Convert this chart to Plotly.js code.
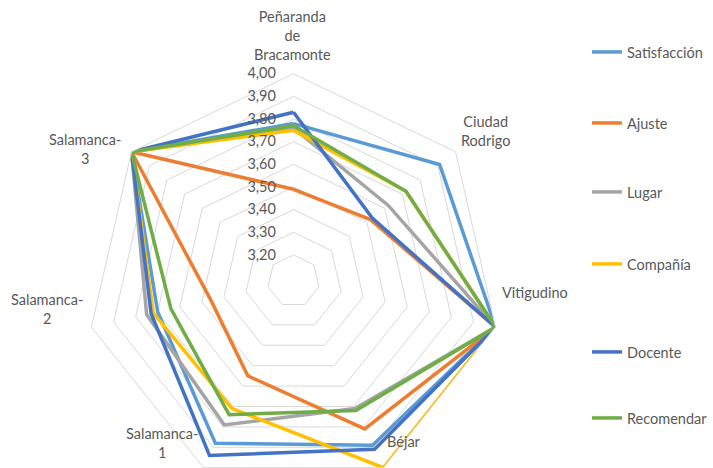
<!DOCTYPE html>
<html><head><meta charset="utf-8">
<script src="https://cdn.plot.ly/plotly-3.0.1.min.js"></script>
<style>
html,body{margin:0;padding:0;background:#fff;overflow:hidden}
#wrap{width:713px;height:468px;overflow:hidden;position:relative}
#chart{width:713px;height:560px}
</style></head><body>
<div id="wrap"><div id="chart"></div></div>
<script>
// ---- data ----
const categories = ['Peñaranda de Bracamonte','Ciudad Rodrigo','Vitigudino','Béjar','Salamanca-1','Salamanca-2','Salamanca-3'];
const categoryLabels = ['Peñaranda<br>de<br>Bracamonte','Ciudad<br>Rodrigo','Vitigudino','Béjar','Salamanca-<br>1','Salamanca-<br>2','Salamanca-<br>3'];
const seriesNames = ['Satisfacción','Ajuste','Lugar','Compañía','Docente','Recomendar'];
const satisfaccion = [3.78, 3.91, 4.00, 3.89, 3.88, 3.70, 4.00];
const ajuste       = [3.49, 3.52, 4.00, 3.81, 3.55, 3.46, 4.00];
const lugar        = [3.76, 3.62, 4.00, 3.71, 3.79, 3.75, 4.00];
const compania     = [3.75, 3.72, 4.00, 4.00, 3.71, 3.72, 4.00];
const docente      = [3.83, 3.53, 4.00, 3.91, 3.94, 3.73, 4.00];
const recomendar   = [3.77, 3.72, 4.00, 3.72, 3.74, 3.64, 4.00];
const radialTicks  = [3.20, 3.30, 3.40, 3.50, 3.60, 3.70, 3.80, 3.90, 4.00];

// ---- styling / layout ----
const seriesValues = [satisfaccion, ajuste, lugar, compania, docente, recomendar];
const colors = ['#5B9BD5','#ED7D31','#A5A5A5','#FFC000','#4472C4','#70AD47'];
const W = 713, H = 560;
const fx = p => p / W;
const fy = p => 1 - p / H;
const FONT = 'Lato, "Open Sans", sans-serif';
const TXT = '#595959';
const CX = 296, CY = 281, R = 209;

const traces = seriesNames.map((name, i) => ({
  type: 'scatterpolar',
  mode: 'lines',
  name: name,
  theta: categories.concat([categories[0]]),
  r: seriesValues[i].concat([seriesValues[i][0]]),
  line: {color: colors[i], width: 3.5},
  legend: i === 0 ? 'legend' : 'legend' + (i + 1),
  hoverinfo: 'skip'
}));

const legendY = [52, 123, 192, 264, 352, 418];
const layout = {
  width: W, height: H,
  margin: {l: 0, r: 0, t: 0, b: 0},
  paper_bgcolor: '#ffffff',
  separators: ', ',
  font: {family: FONT, size: 14.5, color: TXT},
  showlegend: true,
  polar: {
    domain: {x: [fx(CX - R), fx(CX + R)], y: [fy(CY + R), fy(CY - R)]},
    gridshape: 'linear',
    bgcolor: 'rgba(0,0,0,0)',
    angularaxis: {
      direction: 'clockwise', rotation: 90,
      showgrid: false, showticklabels: false, ticks: '',
      showline: true, linecolor: '#d9d9d9', linewidth: 1,
      categoryorder: 'array', categoryarray: categories
    },
    radialaxis: {
      range: [3.085, 4.0], angle: 90, side: 'counterclockwise',
      tickvals: radialTicks, tickformat: '.2f', tickangle: 90,
      ticks: 'outside', ticklen: 12, tickcolor: 'rgba(0,0,0,0)',
      showline: false, gridcolor: '#d9d9d9', gridwidth: 1,
      tickfont: {family: FONT, size: 14.5, color: TXT}
    }
  },
  annotations: []
};
legendY.forEach((ly, i) => {
  layout[i === 0 ? 'legend' : 'legend' + (i + 1)] = {
    x: fx(592), xanchor: 'left', y: fy(ly), yanchor: 'middle',
    bgcolor: 'rgba(0,0,0,0)', borderwidth: 0,
    font: {family: FONT, size: 14.5, color: TXT}
  };
});
const labelPos = [[295, 35], [490, 131], [540, 292], [407, 441], [163, 443], [47, 309], [86, 149]];
categoryLabels.forEach((t, i) => {
  layout.annotations.push({
    text: t, xref: 'paper', yref: 'paper',
    x: fx(labelPos[i][0]), y: fy(labelPos[i][1]),
    xanchor: 'center', yanchor: 'middle', showarrow: false,
    font: {family: FONT, size: 14.5, color: TXT}
  });
});

Plotly.newPlot('chart', traces, layout, {displayModeBar: false, staticPlot: true});
</script>
</body></html>
